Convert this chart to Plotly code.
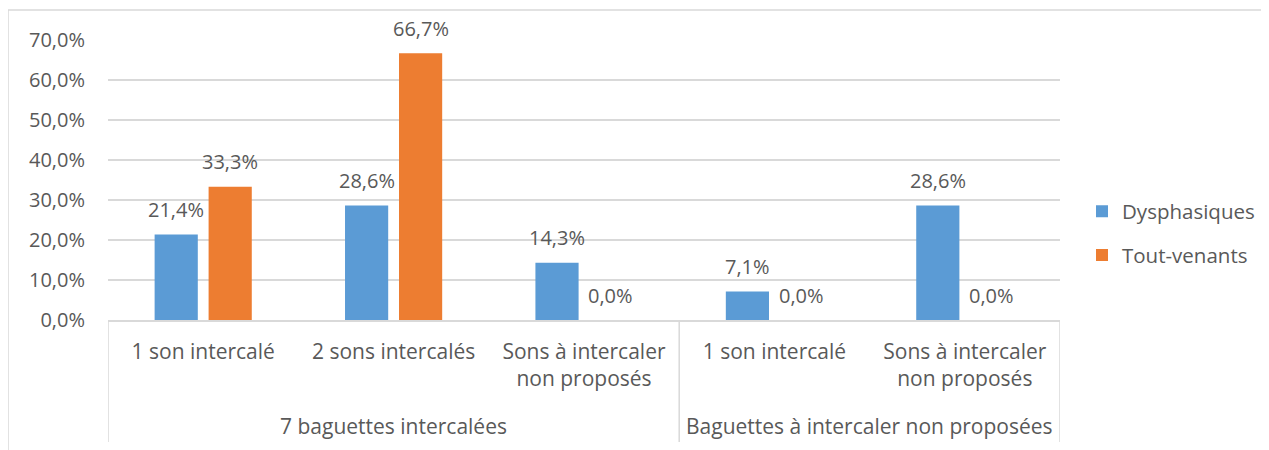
import plotly.graph_objects as go

groups = ["7 baguettes intercalées", "Baguettes à intercaler non proposées"]
group_sizes = [3, 2]
categories = ["1 son intercalé", "2 sons intercalés", "Sons à intercaler<br>non proposés",
              "1 son intercalé", "Sons à intercaler<br>non proposés"]
dysphasiques = [0.214, 0.286, 0.143, 0.071, 0.286]
tout_venants = [0.333, 0.667, 0.0, 0.0, 0.0]
series_names = ["Dysphasiques", "Tout-venants"]
colors = ["#5B9BD5", "#ED7D31"]

FONT = "Open Sans"
TXT = "#595959"
GRID = "#D9D9D9"
# the page adds an 8px body margin, so the figure is drawn 8px in from the window edge
W, H = 1261, 442
ML, MR, MT, MB = 100, 209, 32, 130
plot_w = W - ML - MR
plot_h = H - MT - MB
cat_w = plot_w / len(categories)
BARGAP = 0.433
slot = cat_w * (1 - BARGAP) / 2


def py(fig_y):
    return (H - MB - fig_y) / plot_h


def px(fig_x):
    return (fig_x - ML) / plot_w


xs = list(range(len(categories)))
fig = go.Figure()
annotations = []
for i, (name, vals) in enumerate(zip(series_names, [dysphasiques, tout_venants])):
    fig.add_trace(go.Bar(
        x=xs, y=vals, name=name,
        marker=dict(color=colors[i], line=dict(width=0)),
        legendgroup=name,
    ))
    shift = (i - 0.5) * slot
    for k, v in enumerate(vals):
        annotations.append(dict(
            xref="x", yref="y", x=xs[k], y=v, xshift=shift, yshift=25,
            text=f"{v*100:.1f}%".replace(".", ","), showarrow=False,
            xanchor="center", yanchor="middle",
            font=dict(family=FONT, size=20, color=TXT),
        ))

shapes = []
# group labels and dividers of the two-level category axis
start = 0
bounds = [-0.5]
for g, n in zip(groups, group_sizes):
    center = (xs[start] + xs[start + n - 1]) / 2
    annotations.append(dict(
        xref="x", yref="paper", x=center, y=py(418), text=g, showarrow=False,
        xanchor="center", yanchor="middle", font=dict(family=FONT, size=21, color=TXT),
    ))
    start += n
    bounds.append(xs[start - 1] + 0.5)
for b in bounds:
    shapes.append(dict(type="line", xref="x", yref="paper", x0=b, x1=b, y0=0, y1=py(434),
                       line=dict(color=GRID, width=1.5)))

# outer chart border (top and left edges visible)
shapes += [
    dict(type="line", xref="paper", yref="paper", x0=px(0), x1=px(W + 5), y0=py(2), y1=py(2),
         line=dict(color=GRID, width=1.5)),
    dict(type="line", xref="paper", yref="paper", x0=px(0), x1=px(0), y0=py(2), y1=py(H + 5),
         line=dict(color=GRID, width=1.5)),
]

fig.update_layout(
    width=W, height=H,
    margin=dict(l=ML, r=MR, t=MT, b=MB, autoexpand=False),
    paper_bgcolor="white", plot_bgcolor="white",
    separators=", ",
    barmode="group", bargap=BARGAP, bargroupgap=0.2,
    font=dict(family=FONT, size=20, color=TXT),
    xaxis=dict(
        range=[-0.5, len(categories) - 0.5], tickvals=xs, ticktext=categories,
        showgrid=False, zeroline=False, showline=True, linecolor=GRID, linewidth=1.5,
        ticks="", ticklabelstandoff=12,
        tickfont=dict(family=FONT, size=21, color=TXT),
    ),
    yaxis=dict(
        range=[0, 0.7], dtick=0.1, tickformat=".1%", showgrid=True, gridcolor=GRID,
        gridwidth=1.5, zeroline=False, showline=False, ticks="", ticklabelstandoff=22,
        tickfont=dict(family=FONT, size=20, color=TXT),
    ),
    legend=dict(
        x=px(1074), y=py(225.5), xanchor="left", yanchor="middle",
        traceorder="grouped", tracegroupgap=14,
        font=dict(family=FONT, size=20.5, color=TXT), itemwidth=30,
    ),
    annotations=annotations,
    shapes=shapes,
)

fig.write_html("out.html")
